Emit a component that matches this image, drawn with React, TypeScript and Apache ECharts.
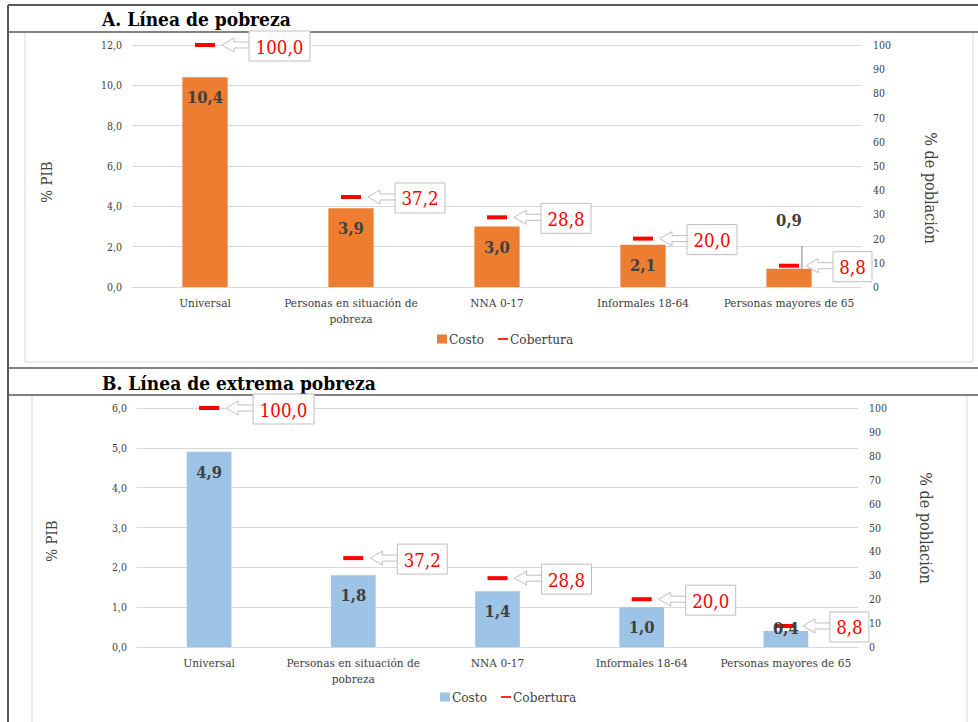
import React, { useEffect, useRef } from "react";
import * as echarts from "echarts";

const categories = [
  "Universal",
  "Personas en situación de\npobreza",
  "NNA 0-17",
  "Informales 18-64",
  "Personas mayores de 65",
];
const costoA = [10.4, 3.9, 3.0, 2.1, 0.9];
const costoB = [4.9, 1.8, 1.4, 1.0, 0.4];
const cobertura = [100.0, 37.2, 28.8, 20.0, 8.8];
const titleA = "A. Línea de pobreza";
const titleB = "B. Línea de extrema pobreza";
const pibAxisA = { min: 0, max: 12, interval: 2 };
const pibAxisB = { min: 0, max: 6, interval: 1 };
const popAxis = { min: 0, max: 100, interval: 10 };

const SERIF = "'DejaVu Serif Condensed', 'DejaVu Serif', serif";
const CALLOUT_FONT = `18.5px ${SERIF}`;
const ORANGE = "#ED7D31";
const BLUE = "#9DC3E6";
const RED = "#FF0000";
const TXT = "#404040";
const GRID = "#D9D9D9";

const fmt1 = (v: number) => v.toFixed(1).replace(".", ",");

const lineIcon = "path://M0,0M12,10M0,4L12,4L12,6L0,6Z";

let measureCtx: CanvasRenderingContext2D | null = null;
const measure = (text: string, font: string) => {
  if (!measureCtx) {
    const c = document.createElement("canvas");
    measureCtx = c.getContext("2d");
  }
  if (!measureCtx) return text.length * 9;
  measureCtx.font = font;
  return measureCtx.measureText(text).width;
};

const renderCallout = (params: any, api: any) => {
  const idx = api.value(0);
  const val = api.value(1);
  const pt = api.coord([idx, val]);
  const cx = pt[0];
  const cy = pt[1];
  const label = fmt1(val);
  const tw = measure(label, CALLOUT_FONT);
  const bx = cx + 44;
  const bw = Math.round(tw + 13);
  const by = cy - 14;
  const bh = 30;
  return {
    type: "group",
    children: [
      { type: "rect", shape: { x: cx - 10, y: cy - 2, width: 20, height: 4 }, style: { fill: RED } },
      {
        type: "polygon",
        shape: {
          points: [
            [cx + 17, cy],
            [cx + 29, cy - 7],
            [cx + 29, cy - 3],
            [bx + 1, cy - 3],
            [bx + 1, cy + 3],
            [cx + 29, cy + 3],
            [cx + 29, cy + 7],
          ],
        },
        style: { fill: "#fff", stroke: "#BFBFBF", lineWidth: 1 },
      },
      {
        type: "rect",
        shape: { x: bx, y: by, width: bw, height: bh },
        style: { fill: "#fff", stroke: "#BFBFBF", lineWidth: 1 },
      },
      {
        type: "text",
        x: bx + bw / 2,
        y: by + bh / 2 + 1,
        style: {
          text: label,
          fill: RED,
          font: CALLOUT_FONT,
          align: "center",
          verticalAlign: "middle",
        },
      },
    ],
  };
};

function buildBarData(values: number[], panel: "A" | "B") {
  return values.map((v, i) => {
    if (i === values.length - 1) {
      if (panel === "A") {
        return {
          value: v,
          label: { position: "top", distance: 40 },
          labelLine: { show: true, lineStyle: { color: "#7F7F7F", width: 1 } },
        };
      }
      return { value: v, label: { position: "top", distance: -6 } };
    }
    return v;
  });
}

export default function App() {
  const ref = useRef<HTMLDivElement>(null);
  useEffect(() => {
    if (!ref.current) return;
    const chart = echarts.init(ref.current, undefined, { renderer: "svg" });

    const xAxisBase = (gridIndex: number) => ({
      type: "category",
      gridIndex,
      data: categories,
      axisLine: { lineStyle: { color: GRID } },
      axisTick: { show: false },
      axisLabel: { interval: 0, color: TXT, fontSize: 11.8, margin: 8, lineHeight: 16, fontFamily: SERIF },
    });
    const yLeft = (gridIndex: number, ax: any) => ({
      type: "value",
      gridIndex,
      min: ax.min,
      max: ax.max,
      interval: ax.interval,
      axisLine: { show: false },
      axisTick: { show: false },
      axisLabel: { formatter: (v: number) => fmt1(v), color: TXT, fontSize: 10.5, margin: 10, fontFamily: SERIF },
      splitLine: { lineStyle: { color: GRID, width: 1 } },
    });
    const yRight = (gridIndex: number) => ({
      type: "value",
      gridIndex,
      position: "right",
      min: popAxis.min,
      max: popAxis.max,
      interval: popAxis.interval,
      axisLine: { show: false },
      axisTick: { show: false },
      axisLabel: { color: TXT, fontSize: 10.5, margin: 11, fontFamily: SERIF },
      splitLine: { show: false },
    });
    const barLabel = {
      show: true,
      position: "insideTop",
      distance: 12,
      formatter: (p: any) => fmt1(p.value),
      fontSize: 16.5,
      fontWeight: "bold",
      color: TXT,
      fontFamily: SERIF,
    };
    const legendBase = (left: number, top: number, color: string) => ({
      left,
      top,
      itemWidth: 10,
      itemHeight: 9,
      itemGap: 14,
      textStyle: { fontSize: 13.5, color: TXT, fontFamily: SERIF, padding: [0, 0, 0, -3] },
      data: [
        { name: "Costo", icon: "rect", itemStyle: { color } },
        { name: "Cobertura", icon: lineIcon, itemStyle: { color: RED } },
      ],
    });
    const lineSeg = (x1: number, y1: number, x2: number, y2: number, color: string, w: number) => ({
      type: "line",
      shape: { x1, y1, x2, y2 },
      style: { stroke: color, lineWidth: w },
      silent: true,
      z: -10,
    });
    const txt = (x: number, y: number, text: string, size: number, rot: number, bold = false) => ({
      type: "text",
      x,
      y,
      rotation: rot,
      style: {
        text,
        fontSize: size,
        fontFamily: SERIF,
        fontWeight: bold ? "bold" : "normal",
        fill: bold ? "#000" : TXT,
        align: rot === 0 ? "left" : "center",
        verticalAlign: "middle",
      },
    });

    const option: any = {
      animation: false,
      textStyle: { fontFamily: SERIF },
      grid: [
        { left: 132, right: 116, top: 45, bottom: 435 },
        { left: 137, right: 120, top: 408, bottom: 75 },
      ],
      xAxis: [xAxisBase(0), xAxisBase(1)],
      yAxis: [yLeft(0, pibAxisA), yRight(0), yLeft(1, pibAxisB), yRight(1)],
      legend: [legendBase(432, 327, ORANGE), legendBase(435, 685, BLUE)],
      graphic: [
        lineSeg(8, 5, 978, 5, "#595959", 2),
        lineSeg(8, 5, 8, 722, "#595959", 2),
        lineSeg(8, 32, 978, 32, "#595959", 1.5),
        lineSeg(8, 368, 978, 368, "#595959", 1.5),
        lineSeg(8, 395, 978, 395, "#595959", 1.5),
        lineSeg(25, 33, 25, 362, GRID, 1),
        lineSeg(973, 33, 973, 362, GRID, 1),
        lineSeg(25, 362, 973, 362, GRID, 1),
        lineSeg(32, 396, 32, 722, GRID, 1),
        lineSeg(967, 396, 967, 722, GRID, 1),
        txt(102, 19, titleA, 19, 0, true),
        txt(102, 383, titleB, 19, 0, true),
        txt(47, 182, "% PIB", 15, Math.PI / 2),
        txt(52, 541, "% PIB", 15, Math.PI / 2),
        txt(930, 188, "% de población", 16, -Math.PI / 2),
        txt(925, 528, "% de población", 16, -Math.PI / 2),
      ],
      series: [
        {
          name: "Costo",
          type: "bar",
          xAxisIndex: 0,
          yAxisIndex: 0,
          barWidth: "31%",
          itemStyle: { color: ORANGE },
          label: barLabel,
          data: buildBarData(costoA, "A"),
        },
        {
          name: "Cobertura",
          type: "custom",
          xAxisIndex: 0,
          yAxisIndex: 1,
          itemStyle: { color: RED },
          clip: false,
          renderItem: renderCallout,
          data: cobertura.map((v, i) => [i, v]),
          z: 3,
        },
        {
          name: "Costo",
          type: "bar",
          xAxisIndex: 1,
          yAxisIndex: 2,
          barWidth: "31%",
          itemStyle: { color: BLUE },
          label: barLabel,
          data: buildBarData(costoB, "B"),
          z: 2,
        },
        {
          name: "Cobertura",
          type: "custom",
          xAxisIndex: 1,
          yAxisIndex: 3,
          itemStyle: { color: RED },
          clip: false,
          renderItem: renderCallout,
          data: cobertura.map((v, i) => [i, v]),
          z: 1,
        },
      ],
    };
    chart.setOption(option);
    return () => chart.dispose();
  }, []);
  return (
    <div
      ref={ref}
      style={{ position: "absolute", left: 0, top: 0, width: 978, height: 722, background: "#fff" }}
    />
  );
}
